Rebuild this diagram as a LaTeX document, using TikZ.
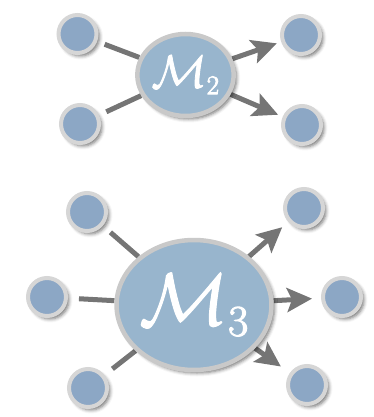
\RequirePackage{fix-cm}
\documentclass[tikz,border=0pt]{standalone}
\usetikzlibrary{shapes.geometric,arrows.meta,shadows.blur,backgrounds}
\DeclareMathSizes{46}{46}{27}{20}
\DeclareMathSizes{74}{74}{44}{32}
\definecolor{smallfill}{HTML}{8CA7C5}
\definecolor{bigfill}{HTML}{98B5CD}
\definecolor{smallborder}{HTML}{D6D6D6}
\definecolor{bigborder}{HTML}{C9C9C9}
\definecolor{conn}{HTML}{757575}
\newcommand{\boldtxt}[2]{\special{pdf:literal direct #1 w 2 Tr}#2\special{pdf:literal direct 0 Tr}}
\tikzset{
  shadowed/.style={blur shadow={shadow xshift=3pt,shadow yshift=-3pt,shadow blur radius=3.5pt,shadow opacity=55}},
  leaf/.style={circle,draw=smallborder,fill=smallfill,line width=4pt,minimum size=38pt,inner sep=0pt,shadowed},
  hub/.style={ellipse,draw=bigborder,fill=bigfill,line width=4.5pt,inner sep=0pt,text=white,shadowed},
  link/.style={draw=conn,line width=5pt},
  arr/.style={draw=conn,line width=5pt,-{Stealth[length=25pt,width=24pt,inset=5pt]}}
}
\begin{document}
\begin{tikzpicture}[x=1pt,y=-1pt]
\useasboundingbox (0,0) rectangle (374,417);
% top group
\node[hub,minimum width=88pt,minimum height=82pt] (m2) at (185.5,75) {\fontsize{46}{50}\selectfont\boldtxt{0.8}{$\mathcal{M}_2$}};
\node[leaf] (a1) at (77.5,34) {};
\node[leaf] (a2) at (80,124) {};
\node[leaf] (b1) at (301,35) {};
\node[leaf] (b2) at (302,125) {};
% bottom group
\node[hub,minimum width=148pt,minimum height=130pt] (m3) at (194,305) {\fontsize{74}{80}\selectfont\boldtxt{1}{$\mathcal{M}_3$}};
\node[leaf] (c1) at (87,212) {};
\node[leaf] (c2) at (47,297) {};
\node[leaf] (c3) at (88,388) {};
\node[leaf] (d1) at (304,208) {};
\node[leaf] (d2) at (342,297) {};
\node[leaf] (d3) at (307,385) {};
\begin{scope}[on background layer]
\draw[link,shorten <=8pt] (a1) -- (m2);
\draw[link,shorten <=8pt] (a2) -- (m2);
\draw[arr,shorten >=4.5pt] (m2) -- (b1);
\draw[arr,shorten >=5pt] (m2) -- (b2);
\draw[link,shorten <=10pt] (c1) -- (m3);
\draw[link,shorten <=11pt] (c2) -- (m3);
\draw[link,shorten <=10pt] (c3) -- (m3);
\draw[arr,shorten >=8pt] (m3) -- (d1);
\draw[arr,shorten >=9pt] (m3) -- (d2);
\draw[arr,shorten >=11pt] (m3) -- (d3);
\end{scope}
\end{tikzpicture}
\end{document}
